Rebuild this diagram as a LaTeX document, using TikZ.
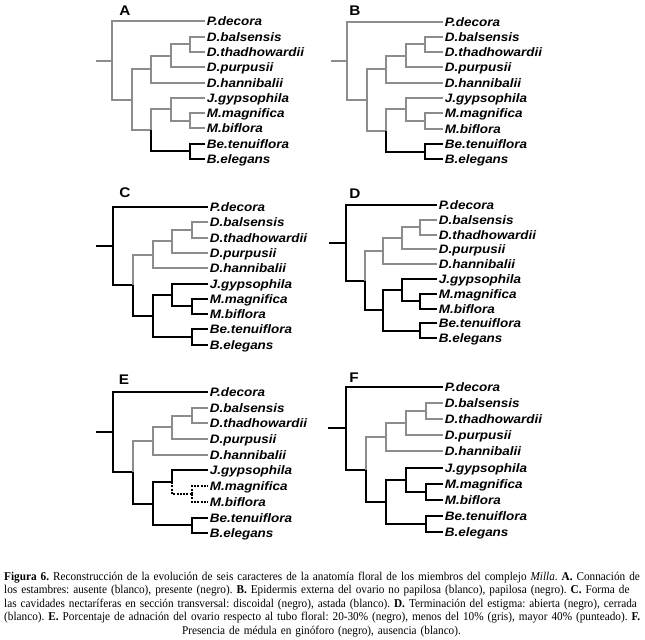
\documentclass[tikz,border=0pt]{standalone}
\usepackage{fontspec}
\setmainfont{Liberation Serif}
\newfontfamily\leaffont{Liberation Sans}[FakeStretch=1.1]
\newfontfamily\capfont{Liberation Serif}[FakeStretch=0.94]
\definecolor{brgray}{RGB}{140,140,140}
\tikzset{
  grline/.style={draw=brgray, line width=2bp},
  bkline/.style={draw=black, line width=2bp},
  dotline/.style={draw=black, line width=2bp, dash pattern=on 2bp off 1.3bp},
  leaf/.style={anchor=west, inner xsep=1.6pt, inner ysep=0pt, text height=10.8pt, text depth=2pt,
    font=\leaffont\bfseries\itshape\fontsize{12.3}{14}\selectfont},
  plabel/.style={inner sep=0pt, font=\leaffont\bfseries\fontsize{14}{15}\selectfont},
  capnode/.style={anchor=base west, inner sep=0pt, text width=637pt, align=left,
    font=\capfont\fontsize{12}{13.7}\selectfont\frenchspacing},
  schemeA/.style={eOt/.style={grline}, eDc/.style={grline}, eBe/.style={bkline}, eMc/.style={grline}},
  schemeC/.style={eOt/.style={bkline}, eDc/.style={grline}, eBe/.style={bkline}, eMc/.style={bkline}},
  schemeE/.style={eOt/.style={bkline}, eDc/.style={grline}, eBe/.style={bkline}, eMc/.style={dotline}},
}
% #1 prefix, #2 stub x, #3 root x, #4 level step, #5 leaf x, #6 first leaf y, #7 leaf spacing
\newcommand\phylotree[7]{%
  \coordinate (#1s) at ({round(#2)},{round(#6+2.5625*#7)});
  \coordinate (#1r) at ({round(#3)},{round(#6+2.5625*#7)});
  \coordinate (#1DR) at ({round(#3+#4)},{round(#6+5.125*#7)});
  \coordinate (#1Dh) at ({round(#3+2*#4)},{round(#6+3.125*#7)});
  \coordinate (#1Dp) at ({round(#3+3*#4)},{round(#6+2.25*#7)});
  \coordinate (#1Dbt) at ({round(#3+4*#4)},{round(#6+1.5*#7)});
  \coordinate (#1JMB) at ({round(#3+2*#4)},{round(#6+7.125*#7)});
  \coordinate (#1JM) at ({round(#3+3*#4)},{round(#6+5.75*#7)});
  \coordinate (#1M) at ({round(#3+4*#4)},{round(#6+6.5*#7)});
  \coordinate (#1Be) at ({round(#3+4*#4)},{round(#6+8.5*#7)});
  \node[leaf] (#1l0) at ({round(#5)},{round(#6)}) {P.decora};
  \node[leaf] (#1l1) at ({round(#5)},{round(#6+#7)}) {D.balsensis};
  \node[leaf] (#1l2) at ({round(#5)},{round(#6+2*#7)}) {D.thadhowardii};
  \node[leaf] (#1l3) at ({round(#5)},{round(#6+3*#7)}) {D.purpusii};
  \node[leaf] (#1l4) at ({round(#5)},{round(#6+4*#7)}) {D.hannibalii};
  \node[leaf] (#1l5) at ({round(#5)},{round(#6+5*#7)}) {J.gypsophila};
  \node[leaf] (#1l6) at ({round(#5)},{round(#6+6*#7)}) {M.magnifica};
  \node[leaf] (#1l7) at ({round(#5)},{round(#6+7*#7)}) {M.biflora};
  \node[leaf] (#1l8) at ({round(#5)},{round(#6+8*#7)}) {Be.tenuiflora};
  \node[leaf] (#1l9) at ({round(#5)},{round(#6+9*#7)}) {B.elegans};
  \draw[eOt] (#1s) -- (#1r);
  \draw[eOt] (#1r) |- (#1l0);
  \draw[eOt] (#1r) |- (#1DR);
  \draw[eDc] (#1DR) |- (#1Dh);
  \draw[eDc] (#1Dh) |- (#1Dp);
  \draw[eDc] (#1Dh) |- (#1l4);
  \draw[eDc] (#1Dp) |- (#1Dbt);
  \draw[eDc] (#1Dp) |- (#1l3);
  \draw[eDc] (#1Dbt) |- (#1l1);
  \draw[eDc] (#1Dbt) |- (#1l2);
  \draw[eOt] (#1DR) |- (#1JMB);
  \draw[eOt] (#1JMB) |- (#1JM);
  \draw[eOt] (#1JM) |- (#1l5);
  \draw[eMc] (#1JM) |- (#1M);
  \draw[eMc] (#1M) |- (#1l6);
  \draw[eMc] (#1M) |- (#1l7);
  \draw[eBe] (#1JMB) |- (#1Be);
  \draw[eBe] (#1Be) |- (#1l8);
  \draw[eBe] (#1Be) |- (#1l9);
}
\begin{document}
\begin{tikzpicture}[x=1bp, y=-1bp]
\useasboundingbox[fill=white] (0,0) rectangle (645,640);

\node[plabel] (labA) at (125,10.5) {A};
\node[plabel] (labB) at (355,10.5) {B};
\node[plabel] (labC) at (125,193) {C};
\node[plabel] (labD) at (355,194) {D};
\node[plabel] (labE) at (124,380) {E};
\node[plabel] (labF) at (354,378) {F};

\begin{scope}[schemeA]
  \phylotree{A}{96}{112}{19.5}{205}{21.3}{15.3}
  \phylotree{B}{331}{347}{19.5}{443}{21.5}{15.3}
\end{scope}
\begin{scope}[schemeC]
  \phylotree{C}{96}{113}{19.75}{208}{207}{15.3}
  \phylotree{D}{329}{346}{18.5}{437}{205}{14.8}
  \phylotree{F}{328}{346}{20}{443}{387}{16.1}
\end{scope}
\begin{scope}[schemeE]
  \phylotree{E}{96}{113}{19.75}{208}{392}{15.7}
\end{scope}

\node[capnode] (cap) at (4,580) {%
\makebox[637pt][s]{\textbf{Figura 6.} Reconstrucción de la evolución de seis caracteres de la anatomía floral de los miembros del complejo \textit{Milla}. \textbf{A.} Connación de}\\
\makebox[637pt][s]{los estambres: ausente (blanco), presente (negro). \textbf{B.} Epidermis externa del ovario no papilosa (blanco), papilosa (negro). \textbf{C.} Forma de}\\
\makebox[637pt][s]{las cavidades nectaríferas en sección transversal: discoidal (negro), astada (blanco). \textbf{D.} Terminación del estigma: abierta (negro), cerrada}\\
\makebox[637pt][s]{(blanco). \textbf{E.} Porcentaje de adnación del ovario respecto al tubo floral: 20-30\% (negro), menos del 10\% (gris), mayor 40\% (punteado). \textbf{F.}}\\
\makebox[637pt][c]{Presencia de médula en ginóforo (negro), ausencia (blanco).}};
\end{tikzpicture}
\end{document}
